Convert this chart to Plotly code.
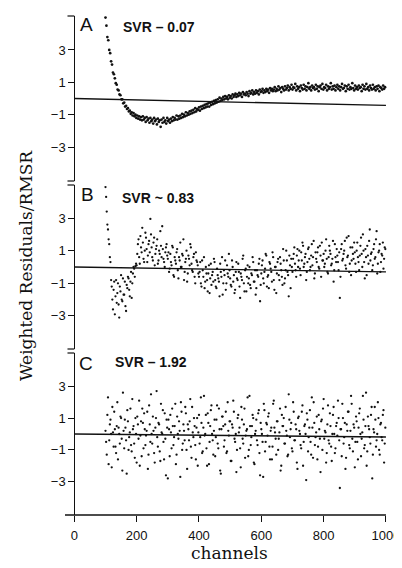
import plotly.graph_objects as go

# ---------------- data ----------------
channels_a = list(range(100, 1000, 3))
resid_a = [
    5.0, 4.5, 3.8, 3.6, 3.0, 2.8, 2.3, 2.1, 1.6, 1.5,
    1.25, 0.95, 0.85, 0.55, 0.5, 0.25, 0.2, -0.05, -0.05, -0.3,
    -0.25, -0.5, -0.45, -0.65, -0.6, -0.8, -0.75, -0.95, -0.85, -1.05,
    -0.9, -1.1, -1.0, -1.2, -1.05, -1.25, -1.1, -1.3, -1.15, -1.35,
    -1.1, -1.3, -1.2, -1.45, -1.15, -1.35, -1.25, -1.5, -1.2, -1.4,
    -1.3, -1.55, -1.2, -1.4, -1.3, -1.6, -1.25, -1.45, -1.35, -1.75,
    -1.3, -1.5, -1.2, -1.45, -1.35, -1.55, -1.2, -1.4, -1.3, -1.5,
    -1.25, -1.4, -1.15, -1.35, -1.2, -1.3, -1.05, -1.3, -1.1, -1.25,
    -1.05, -1.2, -0.95, -1.15, -1.0, -1.1, -0.85, -1.05, -0.9, -1.0,
    -0.8, -0.95, -0.75, -0.9, -0.7, -0.85, -0.6, -0.8, -0.65, -0.7,
    -0.55, -0.75, -0.5, -0.65, -0.45, -0.6, -0.4, -0.55, -0.35, -0.5,
    -0.3, -0.5, -0.25, -0.4, -0.2, -0.35, -0.15, -0.3, -0.1, -0.25,
    -0.05, -0.2, 0.05, -0.15, 0.0, -0.1, 0.1, -0.05, 0.15, 0.0,
    0.1, -0.05, 0.2, 0.05, 0.15, 0.0, 0.25, 0.1, 0.2, 0.3,
    0.1, 0.25, 0.15, 0.35, 0.2, 0.3, 0.1, 0.4, 0.25, 0.3,
    0.2, 0.4, 0.3, 0.15, 0.45, 0.3, 0.35, 0.5, 0.25, 0.4,
    0.3, 0.5, 0.35, 0.45, 0.25, 0.55, 0.4, 0.45, 0.6, 0.35,
    0.5, 0.4, 0.6, 0.45, 0.55, 0.35, 0.65, 0.5, 0.6, 0.45,
    0.55, 0.7, 0.45, 0.6, 0.5, 0.75, 0.55, 0.65, 0.4, 0.7,
    0.6, 0.5, 0.75, 0.55, 0.65, 0.8, 0.5, 0.7, 0.6, 0.85,
    0.55, 0.7, 0.65, 0.9, 0.5, 0.75, 0.6, 0.7, 0.45, 0.8,
    0.65, 0.55, 0.85, 0.6, 0.75, 0.5, 0.7, 0.95, 0.6, 0.7,
    0.5, 0.8, 0.65, 0.7, 0.55, 0.85, 0.6, 0.75, 0.45, 0.7,
    0.8, 0.6, 0.9, 0.55, 0.7, 0.65, 0.85, 0.5, 0.75, 0.6,
    0.7, 0.95, 0.55, 0.75, 0.6, 0.8, 0.5, 0.7, 0.85, 0.6,
    0.75, 0.5, 0.7, 0.9, 0.6, 0.65, 0.8, 0.45, 0.75, 0.6,
    0.85, 0.55, 0.7, 0.6, 0.95, 0.65, 0.5, 0.8, 0.6, 0.7,
    0.55, 0.8, 0.65, 0.7, 0.45, 0.85, 0.6, 0.75, 0.55, 0.9,
    0.6, 0.7, 0.5, 0.8, 0.65, 0.55, 0.85, 0.6, 0.7, 0.5,
    0.75, 0.6, 0.8, 0.45, 0.7, 0.65, 0.55, 0.8, 0.6, 0.7,
]

channels_b = list(range(100, 1000, 4))
resid_b = [
    4.9, 3.4, 2.3, 1.4, 0.3,
    -1.2, -2.6, -0.9, -1.8, -2.2, -1.0, -3.1, -1.5, -2.0, -0.7,
    -1.7, -2.4, -1.1, -0.6, -1.4, -0.9, -1.9, -0.4, -0.1, 0.05,
    0.1, 1.4, 0.6, 1.9, 0.9, 1.5, 0.3, 2.1, 1.1, 0.7,
    1.6, 2.95, 1.2, 0.4, 1.8, 0.8, 1.3, 0.2, 1.0, 2.2,
    0.6, 1.1, 0.3, 0.9, 1.4,
    0.5, -0.3, 0.8, 0.1, 1.2, -0.6, 0.4, 0.9, -0.2, 0.6,
    1.5, 0.0, 0.7, -0.8, 0.3, 1.0, -0.4, 0.5, 1.4, 0.2,
    -0.3, 0.8, -1.0, 0.4, 0.1,
    -0.6, 0.3, -1.2, -0.2, 0.6, -0.9, -0.4, -1.5, 0.1, -0.7,
    -1.1, -0.3, 0.5, -0.8, -1.3, -0.5, -0.9, 0.2, -0.6, -1.7,
    -0.2, 0.4, -1.0, -0.4, 0.8, -0.7, -1.2, 0.0, -0.5, -1.4,
    0.3, -0.8, -0.3, -1.9, -0.6, 0.5, -1.0, -0.2, -1.5, 0.1,
    -0.7, -1.1, -0.4, 0.6, -0.9, -0.2, -1.3, -0.5, 0.2, -2.1,
    -0.4, 0.4, -1.0, -0.1, 0.7, -0.6, -1.3, 0.2, -0.3, 0.9,
    -0.8, 0.0, -1.6, 0.3, -0.5, 0.6, -0.2, -1.1, 0.4, -0.7,
    1.0, -0.3, -1.8, 0.1, 0.5,
    -0.3, 0.8, 0.2, -0.6, 1.1, 0.4, -0.1, 0.9, 1.5, 0.0,
    0.6, -0.8, 0.3, 1.2, -0.2, 0.7, 0.1, 1.6, -0.4, 0.5,
    0.9, 0.0, 1.3, -0.6, 0.4, 0.8, 0.2, 1.7, -0.3, 0.6,
    1.0, 0.1, 0.5, -0.9, 1.4, 0.3, 0.7, -0.2, -1.9, 1.1,
    0.4, 0.8, 1.6, -0.1, 0.6, 1.9, 0.2, -0.5, 1.2, 0.5,
    0.9, -0.3, 1.5, 0.3, 0.7, 1.8, 0.0, 1.0, -0.7, 0.6,
    1.3, 0.2, 2.3, 0.8, -0.2, 1.1, 0.5, 1.7, -0.4, 0.9,
    1.4, 0.3, 0.7, -0.1, 1.2,
]

channels_b2 = list(range(102, 1000, 4))
resid_b2 = [
    4.3, 2.6, 1.7, 0.6, -0.8,
    -2.0, -1.4, -2.9, -0.8, -1.6, -2.3, -1.2, -0.5, -2.1, -1.7,
    -0.9, -2.7, -1.3, -0.7, -1.8, -0.3, -1.0, 0.0, -0.6, 0.2,
    0.8, 1.7, 0.2, 1.2, 2.4, 0.5, 1.0, 1.8, 0.3, 1.4,
    0.9, 2.0, 0.6, 1.5, 0.1, 1.1, 1.7, 0.4, 0.8, 1.3,
    2.5, 0.5, 0.0, 1.2, 0.7,
    0.9, -0.1, 0.3, 1.3, -0.5, 0.6, 0.2, 1.1, -0.7, 0.4,
    0.0, 0.8, 1.7, -0.3, 0.5, -0.9, 0.7, 0.1, 1.2, -0.2,
    0.6, -0.6, 0.9, 0.3, -0.4,
    -0.3, -1.0, 0.4, -0.6, -1.3, 0.0, -0.8, -0.4, -1.6, 0.2,
    -0.5, -0.9, 0.3, -1.2, -0.1, -0.7, -1.8, -0.3, 0.6, -1.0,
    -0.5, -1.4, 0.1, -0.6, -0.2, -1.1, 0.4, -0.9, -1.6, -0.3,
    -0.7, 0.2, -1.2, -0.4, -0.8, 0.7, -1.5, -0.1, -0.6, -1.0,
    0.0, -1.3, -0.5, 0.3, -0.9, -1.7, -0.2, -0.6, 0.5, -1.1,
    0.1, -0.7, -0.3, 0.8, -1.2, -0.5, 0.3, -0.1, -0.9, 0.6,
    -1.4, 0.0, -0.4, 0.5, -0.8, 0.2, -0.6, 1.1, -1.0, -0.2,
    0.4, -0.5, 0.7, -1.3, 0.0,
    0.5, 1.2, -0.2, 0.7, 0.0, 1.0, -0.5, 0.4, 1.3, 0.2,
    0.8, -0.3, 1.1, 0.5, 0.0, 1.4, 0.6, -0.7, 0.9, 0.3,
    1.2, -0.1, 0.7, 1.5, 0.4, 0.0, 1.0, 0.5, -0.4, 1.3,
    0.8, 0.2, 1.6, -0.2, 0.6, 1.1, 0.3, 0.9, -0.6, 1.4,
    0.5, 1.0, 0.1, 1.8, 0.7, -0.3, 1.2, 0.4, 0.8, 1.5,
    0.2, 1.0, 0.6, -0.2, 1.3, 0.8, 2.0, 0.3, 1.1, -0.5,
    0.7, 1.6, 0.4, 0.9, 0.1, 1.4, 0.6, 2.2, 0.2, 1.0,
    -0.3, 0.8, 1.5, 0.5, 1.1,
]

channels_c = list(range(100, 1000, 4))
resid_c = [
    0.2, -1.3, 2.3, -0.4, 0.9, -2.1, 0.1, 1.4, -0.8, 0.5,
    -1.6, 0.0, 1.1, -0.3, 2.6, -0.9, 0.4, -2.5, 0.8, -0.2,
    1.6, -1.1, 0.3, -0.6, 1.0, -1.8, 0.6, 2.1, -0.1, -1.4,
    0.7, 1.3, -0.7, 0.2, -2.2, 1.8, -0.5, 0.0, 1.1, -1.2,
    0.4, 2.7, -0.8, 0.6, -1.7, 0.1, 1.5, -1.6, -0.3, 0.9,
    -2.8, 0.3, 1.2, -0.9, 0.5, -0.2, 1.9, -1.3, 0.0, 0.8,
    -2.7, 1.4, -0.6, 0.2, 1.7, -1.0, 0.6, -0.4, 2.2, -1.5,
    0.1, 1.0, -0.7, 0.4, -2.0, 1.2, -0.2, 0.7, -1.1, 2.4,
    0.0, -0.9, 1.3, -1.9, 0.5, 1.8, -0.4, 0.2, -1.4, 0.9,
    -0.6, 1.6, -2.3, 0.3, 1.1, -0.8, 0.6, -1.2, 2.0, -0.1,
    0.8, -1.7, 0.4, 1.4, -0.5, -2.4, 1.0, 0.1, -0.9, 1.7,
    -0.3, 0.6, -1.5, 0.2, 2.3, -1.0, 0.5, -0.2, 1.2, -1.8,
    0.0, 0.9, -0.7, 1.5, -2.6, 0.3, -0.5, 1.9, -1.1, 0.7,
    -0.1, 1.3, -1.6, 0.4, -0.8, 2.1, 0.1, -1.3, 0.8, -0.3,
    1.6, -2.0, 0.5, 1.0, -0.6, 0.2, -1.4, 2.5, -0.2, 0.7,
    -1.1, 1.4, -0.4, 0.3, -2.2, 1.1, 0.0, -0.9, 1.8, -0.5,
    0.6, -2.9, 0.9, -0.2, 1.5, -1.3, 0.4, 2.0, -0.7, 0.1,
    -1.6, 1.2, -0.3, 0.8, -1.0, 2.2, 0.2, -1.8, 0.6, -0.4,
    1.3, -0.8, 0.0, 1.7, -1.2, 0.5, -0.1, 1.0, -3.4, 0.3,
    1.9, -0.6, 0.7, -1.5, 0.2, 1.4, -0.9, 2.4, -0.3, 0.6,
    -2.1, 1.1, -0.5, 0.4, 1.6, -1.4, 0.1, 0.9, -0.7, 2.6,
    -1.1, 0.5, -0.2, 1.2, -2.8, 0.3, 1.7, -0.8, 0.0, 1.0,
    -1.3, 0.7, -0.4, 1.5, -0.6,
]

channels_c2 = list(range(102, 1000, 4))
resid_c2 = [
    -0.5, 1.2, -1.9, 0.6, 0.0, 1.7, -0.8, 0.3, -1.2, 2.0,
    0.4, -0.6, 1.0, -2.3, 0.2, 0.9, -0.4, 1.5, -1.0, 0.1,
    -0.7, 2.2, 0.5, -1.5, 0.0, 1.1, -0.3, -2.0, 0.8, 1.6,
    -0.9, 0.3, -0.1, 1.4, -1.3, 0.6, 2.5, -0.6, 0.2, -1.8,
    1.0, -0.2, 0.7, -1.1, 1.9, 0.0, -0.5, 1.3, -2.6, 0.4,
    0.9, -1.4, 0.1, 1.6, -0.7, 0.5, -1.9, 1.1, -0.3, 0.2,
    2.0, -1.0, 0.6, -0.4, 1.3, -2.2, 0.3, 0.8, -0.8, 1.7,
    -0.2, 0.5, -1.6, 1.0, 0.1, -0.6, 2.3, -1.2, 0.4, -0.1,
    1.2, -2.0, 0.7, -0.5, 1.5, 0.0, -1.3, 0.9, -0.2, 1.8,
    -0.9, 0.3, -2.5, 1.1, 0.5, -0.4, 1.4, -1.1, 0.2, 0.8,
    -1.7, 0.6, 2.1, -0.3, 0.0, -1.0, 1.2, 0.4, -2.1, 0.9,
    -0.6, 1.6, -0.1, 0.3, -1.4, 2.4, -0.7, 0.5, 1.0, -1.9,
    0.2, -0.4, 1.3, -1.2, 0.7, 0.0, -2.7, 1.5, -0.5, 0.6,
    1.1, -0.8, 0.2, -1.6, 1.9, 0.4, -0.3, 0.8, -1.0, 0.1,
    -2.3, 1.2, 0.5, -0.6, 1.7, -0.1, -1.3, 0.9, 0.3, -0.9,
    2.0, -0.4, 0.6, -1.8, 1.0, 0.2, -0.7, 1.4, -2.0, 0.5,
    0.0, 1.3, -1.1, 0.4, -0.5, 2.3, -1.5, 0.7, -0.2, 1.1,
    -0.8, 0.3, -2.4, 0.9, 1.6, -0.3, 0.1, -1.2, 1.8, -0.6,
    0.5, -1.7, 1.2, 0.0, -0.9, 0.7, 2.1, -0.4, 0.3, -1.4,
    1.0, -0.2, -2.2, 0.6, 1.4, -0.7, 0.2, 1.9, -1.1, 0.4,
    -0.5, 0.8, -1.6, 1.3, 0.0, -0.3, 2.4, -0.9, 0.5, -2.0,
    1.1, 0.3, -0.6, 1.7, -1.3, 0.1, 0.9, -0.4, 2.0, -1.0,
    0.6, -0.2, 1.2, -1.8, 0.4,
]

ref_x = [0, 1000]
ref_a = [0, -0.43]
ref_b = [0, -0.30]
ref_c = [0, -0.19]

panel_letters = ["A", "B", "C"]
svr_labels = ["SVR \u2013 0.07", "SVR ~ 0.83", "SVR \u2013 1.92"]
x_ticks = [0, 200, 400, 600, 800, 1000]
y_ticks = [-3, -1, 1, 3]
y_ticktext = ["\u22123", "\u22121", "1", "3"]

# ---------------- layout geometry ----------------
# the page body has an 8px margin: the figure is placed at (8, 8)
OFF = 8
W, H = 402 - OFF, 568 - OFF
ML = 60 - OFF
PLOT_RIGHT = 395 - OFF          # figure px of the plot area's right edge
MR = W - PLOT_RIGHT
X_RANGE = [-46, 1029]
x_zero_paper = (0 - X_RANGE[0]) / (X_RANGE[1] - X_RANGE[0])


def pdom(top_px, bottom_px):
    return [1 - (bottom_px - OFF) / H, 1 - (top_px - OFF) / H]


dom_a = pdom(16, 181)
dom_b = pdom(185, 349)
dom_c = pdom(353, 515)

ink = "#111111"
tick_font = dict(family="Liberation Sans, Arial, sans-serif", size=13, color=ink)

fig = go.Figure()
for ch, res, ya, msize in [(channels_a, resid_a, "y", 2.7),
                           (channels_b, resid_b, "y2", 2.3),
                           (channels_b2, resid_b2, "y2", 2.3),
                           (channels_c, resid_c, "y3", 2.3),
                           (channels_c2, resid_c2, "y3", 2.3)]:
    fig.add_trace(go.Scatter(x=ch, y=res, mode="markers", xaxis="x", yaxis=ya,
                             marker=dict(color=ink, size=msize, line=dict(width=0)),
                             showlegend=False, hoverinfo="skip"))
for ref, ya in [(ref_a, "y"), (ref_b, "y2"), (ref_c, "y3")]:
    fig.add_trace(go.Scatter(x=ref_x, y=ref, mode="lines", xaxis="x", yaxis=ya,
                             line=dict(color=ink, width=1.3),
                             showlegend=False, hoverinfo="skip"))

yax_common = dict(anchor="free", position=x_zero_paper, showline=True, linecolor=ink,
                  linewidth=1.2, ticks="outside", ticklen=6, tickwidth=1.1, tickcolor=ink,
                  tickvals=y_ticks, ticktext=y_ticktext, tickfont=tick_font,
                  showgrid=False, zeroline=False, fixedrange=True)

fig.update_layout(
    width=W, height=H,
    margin=dict(l=ML, r=MR, t=0, b=0),
    paper_bgcolor="white", plot_bgcolor="white",
    showlegend=False,
    xaxis=dict(domain=[0, 1], range=X_RANGE, anchor="y3", showline=False,
               ticks="outside", ticklen=6, tickwidth=1.1, tickcolor=ink,
               tickvals=x_ticks, tickfont=tick_font, ticklabelstandoff=2,
               ticklabeloverflow="allow",
               showgrid=False, zeroline=False),
    yaxis=dict(domain=dom_a, range=[-5.1, 5.1], **yax_common),
    yaxis2=dict(domain=dom_b, range=[-5.03, 5.03], **yax_common),
    yaxis3=dict(domain=dom_c, range=[-5.1, 5.1], **yax_common),
)

shapes = []
for dom in (dom_a, dom_b, dom_c):
    shapes.append(dict(type="line", xref="x", yref="paper", x0=-22, x1=0, y0=dom[1], y1=dom[1],
                       line=dict(color=ink, width=1.2)))
for dom in (dom_a, dom_b):
    shapes.append(dict(type="line", xref="x", yref="paper", x0=-22, x1=0, y0=dom[0], y1=dom[0],
                       line=dict(color=ink, width=1.2)))
shapes.append(dict(type="line", xref="x", yref="paper", x0=-30, x1=1000, y0=dom_c[0], y1=dom_c[0],
                   line=dict(color=ink, width=1.3)))
fig.update_layout(shapes=shapes)


def px_x(px):
    return (px - OFF - ML) / (W - ML - MR)


def px_y(py):
    return 1 - (py - OFF) / H


annos = []
letter_pos = [(86, 24), (87, 195), (86, 363)]
svr_pos = [(121, 27), (120, 198), (113, 362)]
for letter, (lx, ly) in zip(panel_letters, letter_pos):
    annos.append(dict(text=letter, xref="paper", yref="paper", x=px_x(lx), y=px_y(ly),
                      xanchor="center", yanchor="middle", showarrow=False,
                      font=dict(family="Liberation Sans, Arial, sans-serif", size=19, color=ink)))
for label, (sx, sy) in zip(svr_labels, svr_pos):
    annos.append(dict(text="<b>" + label + "</b>", xref="paper", yref="paper", x=px_x(sx), y=px_y(sy),
                      xanchor="left", yanchor="middle", showarrow=False,
                      font=dict(family="Liberation Sans, Arial, sans-serif", size=14, color=ink)))
annos.append(dict(text="Weighted Residuals/RMSR", xref="paper", yref="paper",
                  x=px_x(26), y=px_y(266), xanchor="center", yanchor="middle",
                  textangle=-90, showarrow=False,
                  font=dict(family="DejaVu Serif, serif", size=17, color=ink)))
annos.append(dict(text="channels", xref="paper", yref="paper",
                  x=px_x(229), y=px_y(553), xanchor="center", yanchor="middle",
                  showarrow=False,
                  font=dict(family="DejaVu Serif, serif", size=17, color=ink)))
fig.update_layout(annotations=annos)

fig.write_html("out.html")
